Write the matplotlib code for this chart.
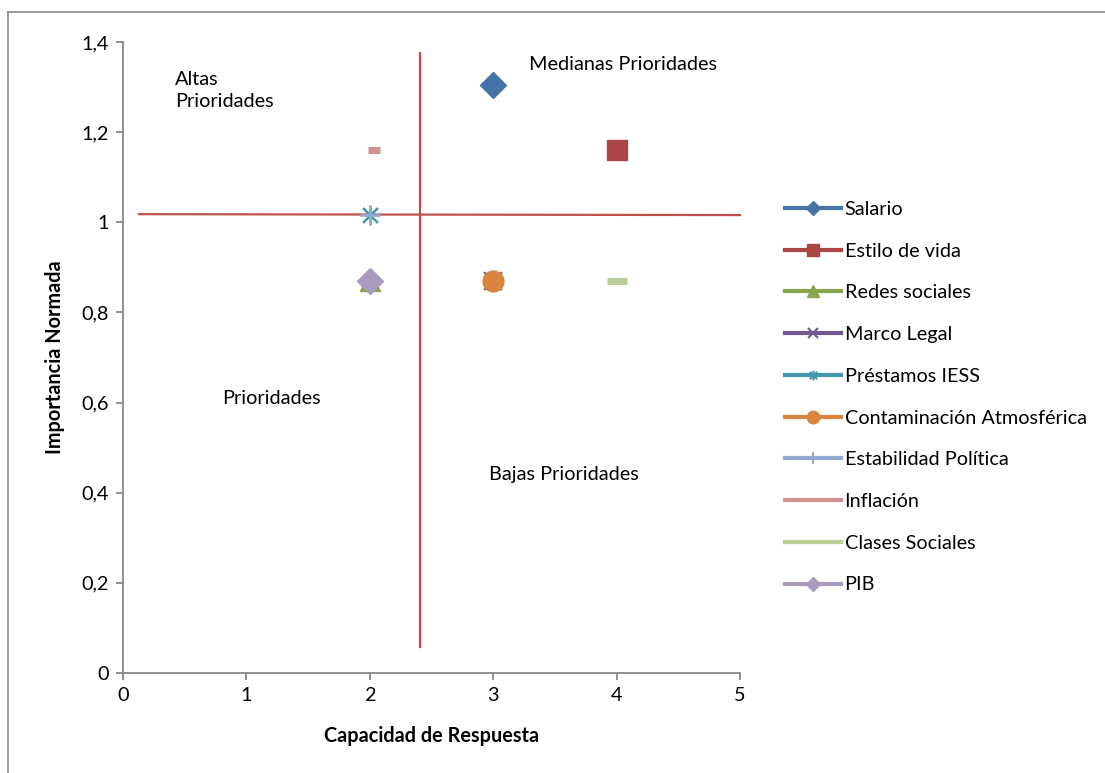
import matplotlib
matplotlib.use("Agg")
import matplotlib.pyplot as plt
from matplotlib.lines import Line2D
from matplotlib.path import Path
from matplotlib.ticker import FuncFormatter

plt.rcParams['font.family'] = ['Lato', 'DejaVu Sans']

# ---- data ----
series_names = ["Salario", "Estilo de vida", "Redes sociales", "Marco Legal",
                "Préstamos IESS", "Contaminación Atmosférica", "Estabilidad Política",
                "Inflación", "Clases Sociales", "PIB"]
x_values = [3, 4, 2, 3, 2, 3, 2, 2.03, 4, 2]
y_values = [1.305, 1.16, 0.87, 0.87, 1.016, 0.87, 1.016, 1.16, 0.87, 0.87]

x_ticks = [0, 1, 2, 3, 4, 5]
y_ticks = [0, 0.2, 0.4, 0.6, 0.8, 1.0, 1.2, 1.4]

# quadrant divider shapes (data coords)
hline_x = [0.13, 5.0]
hline_y = [1.018, 1.016]
vline_x = [2.41, 2.41]
vline_y = [1.376, 0.058]

quadrant_labels = ["Altas\nPrioridades", "Medianas Prioridades", "Prioridades", "Bajas Prioridades"]

# ---- styles ----
FS = 14.3
star = Path([(-1, -1), (1, 1), (-1, 1), (1, -1), (0, -1.3), (0, 1.3)],
            [Path.MOVETO, Path.LINETO, Path.MOVETO, Path.LINETO, Path.MOVETO, Path.LINETO])
colors = ['#4572A7', '#AA4643', '#89A54E', '#71588F', '#4198AF',
          '#DB843D', '#93A9CF', '#D19392', '#B9CD96', '#A99BBD']
markers = ['D', 's', '^', 'x', star, 'o', '+', '_', '_', 'D']
msizes = [13, 15, 14, 13, 14, 15, 15, 9, 15, 13]
mews = [1, 1, 1, 1.5, 1.8, 1, 2, 5, 5, 1]

fig = plt.figure(figsize=(11.05, 7.73), dpi=100)
ax = fig.add_axes([123/1105, 1 - 673/773, (740-123)/1105, (673-42)/773])

for i, name in enumerate(series_names):
    ax.plot([x_values[i]], [y_values[i]], linestyle='none', marker=markers[i],
            markersize=msizes[i], color=colors[i], markeredgecolor=colors[i],
            markeredgewidth=mews[i], zorder=3 + i * 0.01, clip_on=False)

ax.plot(hline_x, hline_y, color='#C0504D', lw=1.6, zorder=2, clip_on=False)
ax.plot(vline_x, vline_y, color='#C0504D', lw=1.6, zorder=2, clip_on=False)

ax.set_xlim(0, 5)
ax.set_ylim(0, 1.4)
ax.set_xticks(x_ticks)
ax.set_yticks(y_ticks)
fmt = FuncFormatter(lambda v, p: ('%g' % round(v, 2)).replace('.', ','))
ax.xaxis.set_major_formatter(fmt)
ax.yaxis.set_major_formatter(fmt)
for s in ['top', 'right']:
    ax.spines[s].set_visible(False)
for s in ['left', 'bottom']:
    ax.spines[s].set_color('#878787')
    ax.spines[s].set_linewidth(1.3)
ax.tick_params(axis='both', direction='out', length=5, width=1.3, color='#878787',
               labelsize=FS, labelcolor='black', pad=5)

ax.set_xlabel("Capacidad de Respuesta", fontsize=FS, fontweight='bold', labelpad=16)
ax.set_ylabel("Importancia Normada", fontsize=FS, fontweight='bold', labelpad=12)

# quadrant labels
ax.text(0.421, 1.292, quadrant_labels[0], fontsize=FS, va='center', ha='left', linespacing=1.4)
ax.text(3.29, 1.349, quadrant_labels[1], fontsize=FS, va='center', ha='left')
ax.text(0.802, 0.608, quadrant_labels[2], fontsize=FS, va='center', ha='left')
ax.text(2.966, 0.4415, quadrant_labels[3], fontsize=FS, va='center', ha='left')

# legend
legend_msize = [7, 8, 8, 7, 7, 9, 8, 0, 0, 7]
handles = [Line2D([0], [0], color=colors[i], lw=3, marker=markers[i],
                  markersize=legend_msize[i],
                  markeredgewidth=min(mews[i], 1.5), markeredgecolor=colors[i])
           for i in range(len(series_names))]
leg = fig.legend(handles, series_names, loc='upper left',
                 bbox_to_anchor=(777/1105, 1 - 193/773), frameon=False,
                 fontsize=FS, handlelength=2.8, handletextpad=0.2,
                 labelspacing=1.245, borderaxespad=0)

# outer frame (top and left edges)
fig.add_artist(Line2D([8/1105, 1], [1 - 12/773, 1 - 12/773], color='#8a8a8a', lw=1.2,
                      transform=fig.transFigure))
fig.add_artist(Line2D([8/1105, 8/1105], [0, 1 - 12/773], color='#8a8a8a', lw=1.2,
                      transform=fig.transFigure))

fig.savefig("out.png", dpi=100)
